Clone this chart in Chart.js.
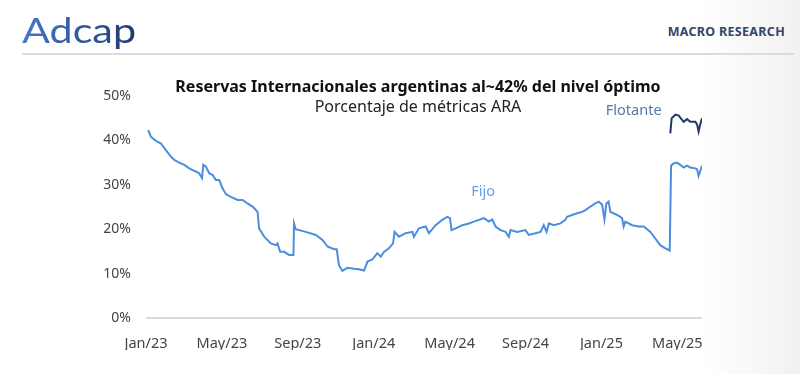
<!DOCTYPE html>
<html lang="es">
<head>
<meta charset="utf-8">
<title>Reservas Internacionales - Porcentaje de métricas ARA</title>
<script src="https://cdn.jsdelivr.net/npm/chart.js@4/dist/chart.umd.min.js"></script>
<style>
  html, body { margin: 0; padding: 0; }
  body {
    width: 800px; height: 374px; overflow: hidden; position: relative;
    background: linear-gradient(to right, #ffffff 0%, #ffffff 88%, #f1f1f1 100%);
    font-family: 'Noto Sans', sans-serif;
  }
  .logo {
    position: absolute; left: 22px; top: 8px;
    font-family: Lato, sans-serif; font-size: 35px; letter-spacing: 0px;
    transform: scaleX(1.18); transform-origin: left top;
    background: linear-gradient(to right, #4677c8, #1d3a72);
    -webkit-background-clip: text; background-clip: text; color: transparent;
  }
  .macro {
    position: absolute; right: 15px; top: 23px;
    font-size: 12.5px; font-weight: 700; letter-spacing: 0.3px; color: #33456a;
  }
  .linea {
    position: absolute; left: 22px; right: 6px; top: 53px; height: 2px; background: #dcdcdc;
  }
  .titulo {
    position: absolute; left: 118px; width: 600px; text-align: center;
    top: 75px; font-size: 16px; font-weight: 700; color: #111;
  }
  .subtitulo {
    position: absolute; left: 118px; width: 600px; text-align: center;
    top: 95px; font-size: 16px; color: #222;
  }
  #wrap { position: absolute; left: 0; top: 0; width: 800px; height: 374px; }
</style>
</head>
<body>
<div class="logo">Adcap</div>
<div class="macro">MACRO RESEARCH</div>
<div class="linea"></div>
<div id="wrap"><canvas id="chart"></canvas></div>
<div class="titulo">Reservas Internacionales argentinas al~42% del nivel óptimo</div>
<div class="subtitulo">Porcentaje de métricas ARA</div>
<script>
// meses desde ene-2023 (eje x) y % de la métrica ARA
const mesesFijo = [
  0.12, 0.26, 0.53, 0.79, 1.05, 1.32, 1.49, 1.75, 2.02, 2.28, 2.46, 2.63, 2.80, 2.95,
  3.02, 3.16, 3.33, 3.51, 3.68, 3.86, 4.03, 4.21, 4.47, 4.83, 5.09, 5.35, 5.62, 5.88,
  5.96, 6.23, 6.58, 6.84, 6.93, 7.07, 7.28, 7.54, 7.77, 7.80, 7.89, 8.42, 8.95, 9.30,
  9.56, 9.91, 10.05, 10.17, 10.35, 10.61, 10.96, 11.23, 11.49, 11.67, 11.93, 12.19,
  12.37, 12.54, 12.80, 13.02, 13.10, 13.33, 13.68, 14.04, 14.12, 14.38, 14.74, 14.91,
  15.26, 15.61, 15.88, 16.02, 16.10, 16.32, 16.67, 17.02, 17.28, 17.54, 17.81, 18.07,
  18.25, 18.42, 18.68, 18.95, 19.12, 19.21, 19.56, 20.00, 20.17, 20.53, 20.79, 20.96,
  21.11, 21.23, 21.49, 21.84, 22.10, 22.19, 22.46, 22.72, 22.98, 23.16, 23.42, 23.68,
  23.86, 24.04, 24.16, 24.26, 24.38, 24.47, 24.83, 25.09, 25.17, 25.26, 25.62, 25.96,
  26.23, 26.58, 26.84, 27.10, 27.37, 27.60, 27.67, 27.80, 27.98, 28.16, 28.33, 28.51,
  28.68, 28.95, 29.04, 29.12, 29.20, 29.30
];
const valoresFijo = [
  42.3, 40.8, 39.9, 39.3, 37.8, 36.3, 35.6, 35.0, 34.5, 33.7, 33.3, 33.0, 32.6, 31.5,
  34.5, 34.1, 32.6, 32.2, 31.1, 31.1, 29.2, 27.9, 27.3, 26.6, 26.6, 25.8, 25.1, 23.9,
  20.2, 18.3, 16.8, 16.4, 16.8, 14.9, 14.9, 14.2, 14.2, 21.3, 20.0, 19.4, 18.7, 17.6,
  16.1, 15.5, 15.5, 11.9, 10.6, 11.3, 11.1, 11.0, 10.7, 12.7, 13.2, 14.6,
  13.8, 14.9, 15.7, 16.8, 19.4, 18.3, 19.1, 19.4, 18.3, 20.2, 20.6, 19.1,
  20.9, 22.1, 22.8, 22.5, 19.8, 20.2, 20.9, 21.3, 21.7, 22.1, 22.5, 21.7,
  22.2, 20.6, 19.8, 19.4, 18.3, 19.8, 19.4, 19.8, 18.7, 19.1, 19.4, 20.9,
  19.4, 21.3, 20.9, 21.3, 22.1, 22.8, 23.2, 23.6, 23.9, 24.3, 25.1, 25.8,
  26.2, 25.5, 22.2, 25.8, 26.2, 23.9, 23.2, 22.5, 20.6, 21.7, 20.9, 20.6,
  20.6, 19.4, 17.9, 16.4, 15.7, 15.2, 34.3, 34.8, 35.0, 34.5, 33.9, 34.3,
  33.9, 33.7, 33.5, 32.0, 33.0, 34.3
];
const mesesFlotante = [27.63, 27.70, 27.90, 28.07, 28.25, 28.33, 28.51, 28.68, 28.95, 29.04, 29.12, 29.20, 29.30];
const valoresFlotante = [41.6, 45.0, 45.8, 45.6, 44.6, 44.2, 44.8, 44.2, 44.2, 43.6, 42.0, 43.5, 45.0];

const etiquetasX = ['Jan/23', 'May/23', 'Sep/23', 'Jan/24', 'May/24', 'Sep/24', 'Jan/25', 'May/25'];
const ticksY = [0, 10, 20, 30, 40, 50];

const azulFijo = '#4a8ee0';
const azulFlotante = '#1f3a68';

const toPoints = (xs, ys) => xs.map((x, i) => ({ x: x, y: ys[i] }));

// textos "Fijo" y "Flotante" ubicados en coordenadas de datos
const rotulos = {
    id: 'rotulos',
    afterDatasetsDraw(chart) {
        const { ctx, scales } = chart;
        ctx.save();
        ctx.font = "14.5px 'Noto Sans', sans-serif";
        ctx.textAlign = 'center';
        ctx.textBaseline = 'middle';
        ctx.fillStyle = '#6c9fe2';
        ctx.fillText('Fijo', scales.x.getPixelForValue(17.76), scales.y.getPixelForValue(28.4));
        ctx.fillStyle = '#5a77a8';
        ctx.fillText('Flotante', scales.x.getPixelForValue(25.7), scales.y.getPixelForValue(46.6));
        ctx.restore();
    }
};

const ctx = document.getElementById('chart').getContext('2d');
new Chart(ctx, {
    type: 'line',
    data: {
        datasets: [
            {
                label: 'Fijo',
                data: toPoints(mesesFijo, valoresFijo),
                borderColor: azulFijo,
                borderWidth: 2,
                pointRadius: 0,
                tension: 0,
            },
            {
                label: 'Flotante',
                data: toPoints(mesesFlotante, valoresFlotante),
                borderColor: azulFlotante,
                borderWidth: 2,
                pointRadius: 0,
                tension: 0,
            },
        ],
    },
    options: {
        responsive: true,
        maintainAspectRatio: false,
        animation: false,
        layout: { padding: { left: 86, right: 98, top: 96, bottom: 24 } },
        plugins: {
            legend: { display: false },
            tooltip: { enabled: false },
        },
        scales: {
            x: {
                type: 'linear',
                min: 0,
                max: 29.3,
                afterFit: (scale) => { scale.height = 32; },
                grid: { display: false },
                border: { display: false },
                ticks: {
                    stepSize: 4,
                    includeBounds: false,
                    maxRotation: 0,
                    padding: 9,
                    color: '#444',
                    font: { family: "'Noto Sans', sans-serif", size: 14.5 },
                    callback: (v) => etiquetasX[v / 4],
                },
            },
            y: {
                min: ticksY[0],
                max: ticksY[ticksY.length - 1],
                afterFit: (scale) => { scale.width = 60; },
                afterBuildTicks: (scale) => { scale.ticks = ticksY.map((v) => ({ value: v })); },
                border: { display: false },
                grid: {
                    drawTicks: false,
                    lineWidth: 2,
                    color: (c) => (c.tick && c.tick.value === 0 ? '#dadada' : 'rgba(0,0,0,0)'),
                },
                ticks: {
                    padding: 15,
                    color: '#444',
                    font: { family: "'Noto Sans', sans-serif", size: 14 },
                    callback: (v) => v + '%',
                },
            },
        },
    },
    plugins: [rotulos],
});
</script>
</body>
</html>
